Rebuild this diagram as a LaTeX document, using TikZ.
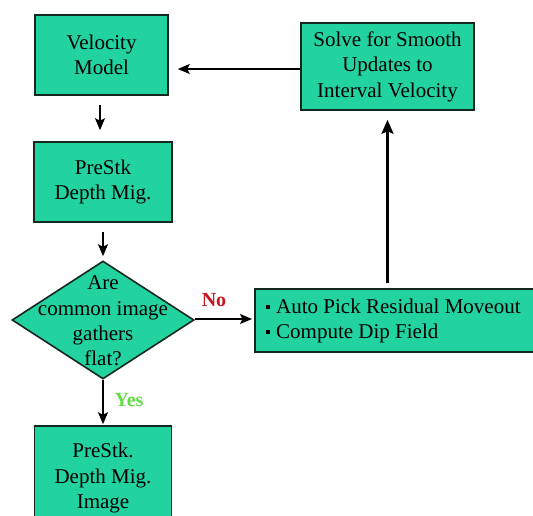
\documentclass[tikz,border=0pt]{standalone}
\usepackage{fontspec}
\setmainfont{Liberation Serif}
\usetikzlibrary{shapes.geometric,arrows.meta}
\definecolor{boxgreen}{RGB}{34,211,160}
\definecolor{boxline}{RGB}{20,40,32}
\definecolor{nored}{RGB}{200,20,30}
\definecolor{yesgreen}{RGB}{100,220,70}
\tikzset{
  box/.style={draw=boxline, line width=1.6pt, fill=boxgreen, inner sep=0pt,
    align=center, font=\fontsize{21}{25.5}\selectfont},
  dia/.style={draw=boxline, line width=1.6pt, fill=boxgreen, diamond, inner sep=0pt,
    minimum width=182pt, minimum height=118pt},
  txt/.style={align=center, inner sep=0pt, font=\fontsize{21}{25.2}\selectfont},
  arr/.style={draw=black, line width=1.5pt, -{Stealth[length=12pt,width=10pt,inset=2.5pt]}},
  bigarr/.style={draw=black, line width=2.4pt, -{Stealth[length=14pt,width=12pt,inset=2.5pt]}},
  lab/.style={inner sep=0pt, font=\fontsize{20}{24}\selectfont\bfseries}
}
\newcommand{\sqbullet}{\raisebox{0.2em}{\rule{4pt}{4pt}}\hspace{6pt}}
\begin{document}
\begin{tikzpicture}[x=1pt,y=-1pt]
\useasboundingbox (0,0) rectangle (533,516);
\clip (0,0) rectangle (533,516);
\fill[white] (0,0) rectangle (533,516);
\node[box, minimum width=133pt, minimum height=80pt] (VM) at (101.5,55) {Velocity\\Model};
\node[box, minimum width=173pt, minimum height=87pt] (SV) at (387.5,66.5) {Solve for Smooth\\Updates to\\Interval Velocity};
\node[box, minimum width=138pt, minimum height=80pt] (PS) at (103,182) {PreStk\\Depth Mig.};
\node[dia] (D) at (103,320) {};
\node[txt] (Dt) at (103,321) {Are\\common image\\gathers\\flat?};
\node[box, anchor=west, minimum width=290pt, minimum height=63pt] (AP) at (254,320.5) {};
\node[txt, anchor=west, align=left] (APt) at (266,321) {\sqbullet Auto Pick Residual Moveout\\\sqbullet Compute Dip Field};
\node[box, minimum width=137pt, minimum height=104pt] (IM) at (103,478) {PreStk.\\Depth Mig.\\Image};
\node[lab, text=nored] (No) at (214,300) {No};
\node[lab, text=yesgreen] (Yes) at (129,400) {Yes};
% connectors
\draw[arr, shorten >=9pt] ([yshift=-2.5pt]SV.west) -- ([yshift=-2.5pt]SV.west -| VM.east);
\draw[arr, shorten <=9pt, shorten >=11pt] ([xshift=-1.5pt]VM.south) -- ([xshift=-1.5pt]VM.south |- PS.north);
\draw[arr, shorten <=9pt, shorten >=4pt] (PS.south) -- (D.north);
\draw[arr, shorten >=2pt] ([yshift=1pt]D.east) -- ([yshift=1pt]D.east -| AP.west);
\draw[bigarr, shorten <=5pt, shorten >=9pt] (AP.north -| SV.south) -- (SV.south);
\draw[arr, shorten >=1pt] (D.south) -- (IM.north);
\end{tikzpicture}
\end{document}
